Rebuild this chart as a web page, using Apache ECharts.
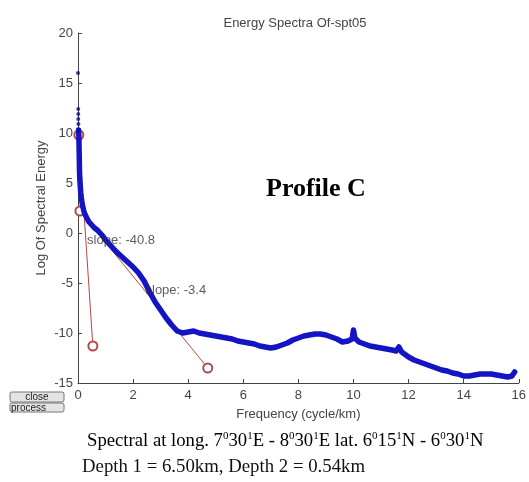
<!DOCTYPE html>
<html>
<head>
<meta charset="utf-8">
<script src="https://cdn.jsdelivr.net/npm/echarts@6/dist/echarts.min.js"></script>
<style>html,body{margin:0;padding:0;background:#fff;}#c{width:529px;height:482px;}</style>
</head>
<body>
<div id="c"></div>
<script>
// ---- data ----
var xTicks = [0, 2, 4, 6, 8, 10, 12, 14, 16];
var yTicks = [-15, -10, -5, 0, 5, 10, 15, 20];
// isolated low-frequency points at the top of the spectrum
var topDots = [[0.0, 16.0], [0.01, 12.4], [0.01, 11.9], [0.01, 11.4], [0.015, 10.9], [0.02, 10.3]];
// main spectrum (frequency, log energy)
var spectrum = [
  [0.02,10.3],[0.03,9.8],[0.035,9.2],[0.04,8.5],[0.045,7.8],[0.05,7.0],[0.055,6.2],[0.065,5.4],[0.08,4.8],
  [0.10,4.0],[0.13,3.3],[0.17,2.7],[0.22,2.1],[0.3,1.6],[0.4,1.1],[0.5,0.8],[0.6,0.5],[0.7,0.3],
  [0.8,0.0],[0.9,-0.3],[1.0,-0.7],[1.1,-1.0],[1.2,-1.3],[1.4,-1.9],[1.6,-2.4],[1.8,-2.9],[2.0,-3.4],
  [2.2,-4.0],[2.4,-4.8],[2.6,-5.9],[2.8,-6.9],[3.0,-7.7],[3.2,-8.5],[3.4,-9.2],[3.6,-9.8],[3.8,-10.0],
  [4.0,-9.9],[4.2,-9.8],[4.4,-10.0],[4.6,-10.1],[4.8,-10.2],[5.0,-10.3],[5.2,-10.4],[5.4,-10.5],
  [5.6,-10.6],[5.8,-10.8],[6.0,-10.9],[6.2,-11.0],[6.4,-11.1],[6.6,-11.3],[6.8,-11.4],[7.0,-11.5],
  [7.2,-11.4],[7.4,-11.2],[7.6,-11.0],[7.8,-10.7],[8.0,-10.5],[8.2,-10.3],[8.4,-10.2],[8.6,-10.1],
  [8.8,-10.1],[9.0,-10.2],[9.2,-10.4],[9.4,-10.6],[9.6,-10.9],[9.8,-10.8],[9.95,-10.6],[10.0,-9.7],
  [10.05,-10.5],[10.2,-10.9],[10.4,-11.1],[10.6,-11.3],[10.8,-11.4],[11.0,-11.5],[11.2,-11.6],
  [11.4,-11.7],[11.55,-11.8],[11.65,-11.4],[11.75,-11.9],[12.0,-12.4],[12.2,-12.7],[12.4,-12.9],
  [12.6,-13.1],[12.8,-13.3],[13.0,-13.5],[13.2,-13.7],[13.4,-13.8],[13.6,-14.0],[13.8,-14.1],
  [14.0,-14.3],[14.2,-14.3],[14.4,-14.2],[14.6,-14.1],[14.8,-14.1],[15.0,-14.1],[15.2,-14.2],
  [15.4,-14.3],[15.6,-14.4],[15.75,-14.3],[15.85,-13.9]
];
// fitted slope lines (end points)
var fitDeep = [[0.03, 9.8], [0.54, -11.3]];
var fitShallow = [[0.07, 2.2], [4.71, -13.5]];
var slopeLabels = [[0.33, -0.7, 'slope: -40.8'], [2.45, -5.7, 'slope: -3.4']];

var chart = echarts.init(document.getElementById('c'), null, {renderer: 'canvas'});
var axisColor = '#444';
var sansFont = 'Liberation Sans, Arial, sans-serif';
var serifFont = 'Liberation Serif, Times New Roman, serif';

chart.setOption({
  animation: false,
  backgroundColor: '#fff',
  title: {
    text: 'Energy Spectra Of-spt05',
    left: 290, top: 12, textAlign: 'center',
    textStyle: {fontFamily: sansFont, fontSize: 13, fontWeight: 'normal', color: '#444'}
  },
  grid: {left: 78, right: 10, top: 33, bottom: 99, containLabel: false},
  xAxis: {
    type: 'value', min: xTicks[0], max: xTicks[xTicks.length - 1], interval: 2,
    name: 'Frequency (cycle/km)', nameLocation: 'middle', nameGap: 25,
    nameTextStyle: {fontFamily: sansFont, fontSize: 13, color: '#444'},
    axisLine: {show: true, onZero: false, lineStyle: {color: axisColor, width: 1}},
    axisTick: {show: true, inside: true, length: 4, lineStyle: {color: axisColor}},
    axisLabel: {fontFamily: sansFont, fontSize: 13, color: '#444', margin: 6},
    splitLine: {show: false}
  },
  yAxis: {
    type: 'value', min: yTicks[0], max: yTicks[yTicks.length - 1], interval: 5,
    name: 'Log Of Spectral Energy', nameLocation: 'middle', nameGap: 30, nameMoveOverlap: false,
    nameTextStyle: {fontFamily: sansFont, fontSize: 13, color: '#444'},
    axisLine: {show: true, onZero: false, lineStyle: {color: axisColor, width: 1}},
    axisTick: {show: true, inside: true, length: 4, lineStyle: {color: axisColor}},
    axisLabel: {fontFamily: sansFont, fontSize: 13, color: '#444', margin: 5},
    splitLine: {show: false}
  },
  series: [
    {
      type: 'line', data: fitDeep, z: 2,
      symbol: 'emptyCircle', symbolSize: 9, showSymbol: true,
      itemStyle: {color: '#b34a4a', borderWidth: 1},
      lineStyle: {color: '#b34a4a', width: 1}
    },
    {
      type: 'line', data: fitShallow, z: 2,
      symbol: 'emptyCircle', symbolSize: 9, showSymbol: true,
      itemStyle: {color: '#b34a4a', borderWidth: 1},
      lineStyle: {color: '#b34a4a', width: 1}
    },
    {
      type: 'line', data: spectrum, z: 3,
      showSymbol: false, symbol: 'none',
      lineStyle: {color: '#1414c4', width: 5.5, join: 'round', cap: 'round'}
    },
    {
      type: 'scatter', data: topDots, z: 4,
      symbol: 'circle', symbolSize: 4,
      itemStyle: {color: '#0c0c88'}
    },
    {
      type: 'scatter', z: 5, symbolSize: 0,
      data: slopeLabels.map(function (d) { return {value: [d[0], d[1]], name: d[2]}; }),
      label: {
        show: true, position: 'right', distance: 0,
        formatter: function (p) { return p.name; },
        fontFamily: sansFont, fontSize: 13, color: '#333'
      }
    }
  ],
  graphic: [
    {type: 'text',
      style: {x: 266, y: 189, text: 'Profile C', verticalAlign: 'middle', font: 'bold 26px ' + serifFont, fill: '#000'}},
    {type: 'text',
      style: {
        x: 87, y: 441, verticalAlign: 'middle',
        text: '{n|Spectral at long. 7}{s|0}{n|30}{s|1}{n|E - 8}{s|0}{n|30}{s|1}{n|E lat. 6}{s|0}{n|15}{s|1}{n|N - 6}{s|0}{n|30}{s|1}{n|N}',
        rich: {
          n: {fontFamily: serifFont, fontSize: 18.7, color: '#111', lineHeight: 20, verticalAlign: 'bottom'},
          s: {fontFamily: serifFont, fontSize: 11, color: '#111', lineHeight: 20, verticalAlign: 'top'}
        }
      }},
    {type: 'text',
      style: {x: 82, y: 467, verticalAlign: 'middle', text: 'Depth 1 = 6.50km, Depth 2 = 0.54km', font: '18.8px ' + serifFont, fill: '#111'}},
    {type: 'rect', shape: {x: 10, y: 392, width: 54, height: 10, r: 2},
      style: {fill: '#e4e4e4', stroke: '#777', lineWidth: 1}},
    {type: 'text', style: {x: 37, y: 397, text: 'close', align: 'center', verticalAlign: 'middle', font: '10px ' + sansFont, fill: '#222'}},
    {type: 'rect', shape: {x: 10, y: 403, width: 54, height: 9, r: 2},
      style: {fill: '#e4e4e4', stroke: '#777', lineWidth: 1}},
    {type: 'text', style: {x: 11, y: 408, text: 'process', align: 'left', verticalAlign: 'middle', font: '10px ' + sansFont, fill: '#222'}}
  ]
});
</script>
</body>
</html>
